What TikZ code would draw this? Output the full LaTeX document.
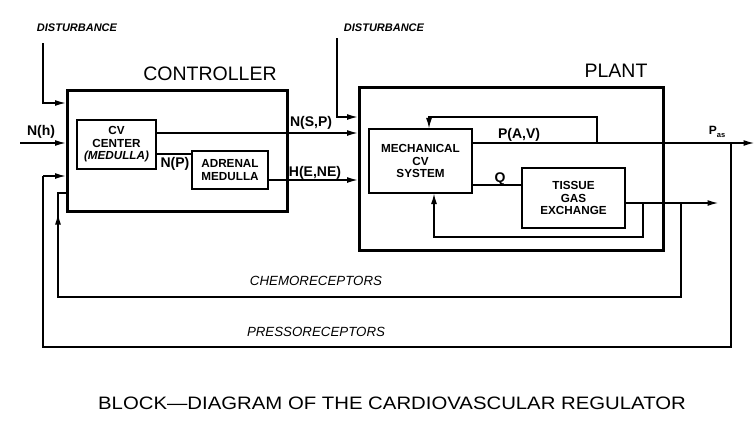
\documentclass[tikz,border=0pt]{standalone}
\usepackage{fontspec}
\usepackage{graphicx}
\setmainfont{Liberation Sans}
\usetikzlibrary{arrows.meta,calc}
\begin{document}
\begin{tikzpicture}[x=1pt,y=-1pt,
  blk/.style={draw,line width=1.2pt,inner sep=0pt,align=center,font=\bfseries\fontsize{11.7}{12.5}\selectfont},
  outer/.style={draw,line width=3pt,inner sep=0pt},
  ln/.style={line width=1.2pt},
  arr/.style={ln,-{Latex[length=10.5pt,width=6pt]}},
  lbl/.style={inner sep=0pt,font=\bfseries\fontsize{14}{15}\selectfont},
  dist/.style={inner sep=0pt,font=\bfseries\itshape\fontsize{11}{12}\selectfont},
  recep/.style={inner sep=0pt,font=\itshape\fontsize{13.3}{14}\selectfont},
  head/.style={inner sep=0pt,font=\fontsize{19.5}{20}\selectfont}]
\useasboundingbox (0,0) rectangle (754,423);
\fill[white] (0,0) rectangle (754,423);

% outer boxes
\node[outer,minimum width=220pt,minimum height=121pt] (ctrl) at (177,150.5) {};
\node[outer,minimum width=304pt,minimum height=163pt] (plant) at (511,168.5) {};
\node[head] (ctrlT) at (210,74) {CONTROLLER};
\node[head] (plantT) at (616,71) {PLANT};

% inner blocks
\node[blk,minimum width=79pt,minimum height=49pt] (cv) at (116.5,144.5)
  {CV\\CENTER\\{\itshape(MEDULLA)}};
\node[blk,minimum width=76pt,minimum height=38pt,font=\bfseries\fontsize{11.7}{13}\selectfont] (adr) at (230,170)
  {ADRENAL\\MEDULLA};
\node[blk,minimum width=103pt,minimum height=64pt] (mech) at (420.5,161)
  {MECHANICAL\\CV\\SYSTEM};
\node[blk,minimum width=103pt,minimum height=60pt] (tis) at (573.5,198)
  {TISSUE\\GAS\\EXCHANGE};

% disturbances
\node[dist] (d1) at (77,28) {DISTURBANCE};
\node[dist] (d2) at (384,28) {DISTURBANCE};
\coordinate (d1a) at (43,43);
\coordinate (d2a) at (337,38);
\draw[arr] (d1a) |- (ctrl.west |- 0,103);
\draw[arr] (d2a) |- (plant.west |- 0,117);

% N(h)
\coordinate (nh) at (20,143);
\draw[arr] (nh) -- (nh -| ctrl.west);
\node[lbl] (nhT) at (41,132) {N(h)};

% N(S,P)
\draw[arr] ([yshift=11.5pt]cv.east) coordinate (nsp) -- (nsp -| plant.west);
\node[lbl] (nspT) at (311,123) {N(S,P)};

% N(P)
\draw[ln] ([yshift=-9.5pt]cv.east) coordinate (np) -- (np -| adr.west);
\node[lbl] (npT) at (175,164) {N(P)};

% H(E,NE)
\draw[arr] ([yshift=-10pt]adr.east) coordinate (hen) -- (hen -| plant.west);
\node[lbl] (henT) at (315,173) {H(E,NE)};

% P(A,V)
\coordinate (pend) at (754,143);
\draw[arr] (mech.east |- pend) -- (pend);
\node[lbl] (pavT) at (519,135) {P(A,V)};
\node[inner sep=0pt,font=\bfseries\fontsize{12}{13}\selectfont] (pasT) at (717,132) {P\raisebox{-2.5pt}{\fontsize{7.5}{8}\selectfont as}};

% mech self-loop
\coordinate (ml) at (597,117);
\draw[arr] (ml |- pend) -- (ml) -| ([xshift=8.5pt]mech.north);

% Q
\draw[ln] (mech.east |- 0,185) -- (tis.west |- 0,185);
\node[lbl] (qT) at (500,179) {Q};

% tissue output
\coordinate (tend) at (718,203);
\draw[arr] (tis.east |- tend) -- (tend);

% inner loop
\coordinate (il) at (643,237);
\draw[arr] (il |- tend) -- (il) -| ([xshift=13.5pt]mech.south);

% chemoreceptors loop
\coordinate (ch1) at (681,297);
\coordinate (ch2) at (58,297);
\coordinate (ch3) at (58,193);
\draw[ln] (ch1 |- tend) -- (ch1) -- (ch2) -- (ch3) -- (ch3 -| ctrl.west);
\draw[arr] (ch2) -- (58,214);
\node[recep] (chT) at (316,281) {CHEMORECEPTORS};

% pressoreceptors loop
\coordinate (pr1) at (731,347);
\coordinate (pr2) at (43,347);
\coordinate (pr3) at (43,176);
\draw[ln] (pr1 |- pend) -- (pr1) -- (pr2) -- (pr3);
\draw[arr] (pr3) -- (pr3 -| ctrl.west);
\node[recep] (prT) at (316,332) {PRESSORECEPTORS};

% title
\node[inner sep=0pt,font=\fontsize{18}{20}\selectfont] (title) at (392,403)
  {\scalebox{1.13}[1]{BLOCK---DIAGRAM OF THE CARDIOVASCULAR REGULATOR}};
\end{tikzpicture}
\end{document}
